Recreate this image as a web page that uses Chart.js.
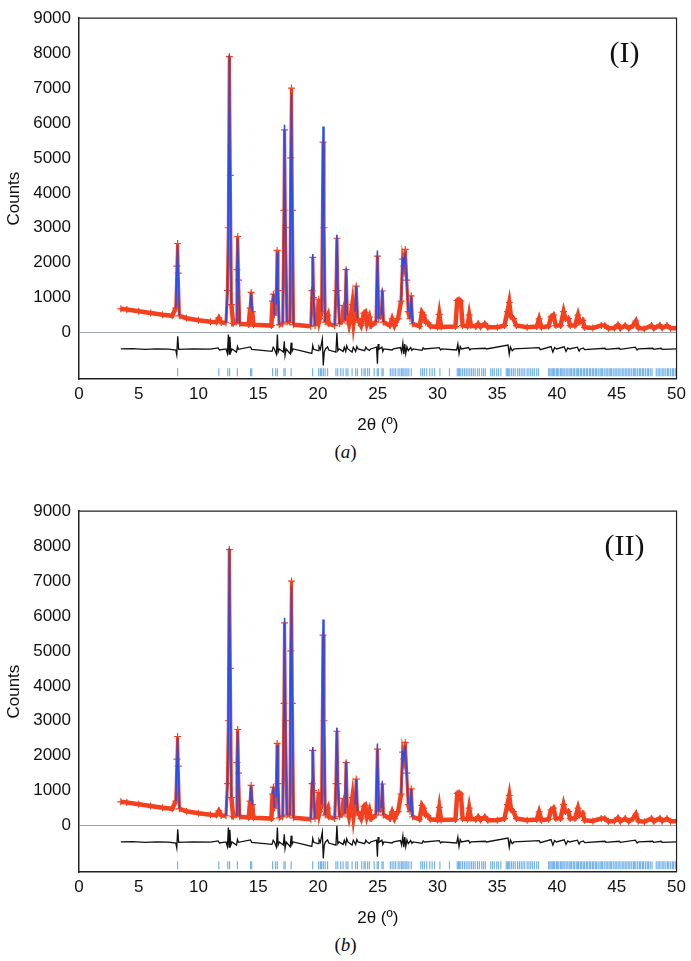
<!DOCTYPE html>
<html>
<head>
<meta charset="utf-8">
<script src="https://cdn.jsdelivr.net/npm/chart.js@4.4.0/dist/chart.umd.min.js"></script>
<style>
  body { margin: 0; background: #fff; width: 691px; height: 961px; position: relative; overflow: hidden; }
  canvas { position: absolute; left: 0; }
  .cap { position: absolute; left: 0; width: 691px; text-align: center; font: 19px "Liberation Serif", serif; color: #111; }
</style>
</head>
<body>
<canvas id="chartA" width="691" height="440" style="top:0"></canvas>
<div class="cap" style="top:441px">(<i>a</i>)</div>
<canvas id="chartB" width="691" height="440" style="top:493px"></canvas>
<div class="cap" style="top:934px">(<i>b</i>)</div>

<script>
// 2theta positions of the profile points
const twoTheta = [3.5, 4.0, 5.0, 6.0, 7.0, 7.8, 8.1, 8.2, 8.25, 8.3, 8.4, 9.0, 10.0, 11.0, 11.5, 11.7, 11.9,
  12.3, 12.42, 12.5, 12.58, 12.66, 12.75, 12.9, 13.15, 13.22, 13.28, 13.35, 13.45, 14.2, 14.32, 14.4, 14.5, 14.6,
  16.1, 16.2, 16.27, 16.35, 16.5, 16.58, 16.65, 16.75, 17.05, 17.15, 17.2, 17.27, 17.4, 17.65, 17.72, 17.78, 17.85, 17.95,
  19.4, 19.5, 19.56, 19.63, 19.75, 19.98, 20.06, 20.15, 20.3, 20.42, 20.5, 20.6, 20.75, 20.82, 20.9,
  21.4, 21.5, 21.58, 21.66, 21.8, 22.05, 22.15, 22.25, 22.35, 22.45, 22.6, 22.75, 22.87, 22.98, 23.1, 23.2, 23.3,
  23.6, 23.85, 23.95, 24.1, 24.3, 24.45, 24.85, 24.97, 25.08, 25.3, 25.38, 25.47, 26.0, 26.2, 26.4, 26.7, 26.95,
  27.08, 27.18, 27.3, 27.42, 27.55, 27.7, 27.8, 27.92, 28.5, 28.7, 28.85, 29.0, 29.2, 29.4, 30.0, 30.15, 30.3,
  31.5, 31.65, 31.8, 31.95, 32.1, 32.5, 32.65, 32.8, 33.2, 33.4, 33.6, 33.95, 34.2, 35.0, 35.6, 35.85, 36.0, 36.15,
  36.35, 36.6, 37.5, 38.3, 38.5, 38.7, 39.3, 39.5, 39.7, 39.9, 40.3, 40.55, 40.7, 40.95, 41.1, 41.5, 41.75, 41.9,
  42.15, 42.3, 43.0, 43.7, 44.0, 44.3, 44.8, 45.1, 45.3, 45.7, 46.0, 46.35, 46.6, 46.8, 47.3, 47.9, 48.1, 48.6,
  48.8, 49.2, 49.5, 50.0];

// observed counts (red crosses)
const yObs = [680, 660, 610, 560, 510, 480, 700, 1900, 2550, 1700, 480, 410, 350, 310, 300, 420, 290,
  280, 1200, 3000, 7900, 4500, 800, 260, 300, 1800, 2750, 1500, 250, 230, 700, 1150, 600, 220,
  200, 900, 1100, 500, 800, 2350, 1200, 220, 250, 3500, 5800, 3000, 300, 300, 5000, 7000, 3500, 220,
  180, 1200, 2150, 1000, 200, 400, 950, 400, 600, 5450, 3000, 300, 450, 500, 250,
  200, 1200, 2700, 1200, 250, 350, 780, 350, 1800, 500, 250, 500, 800, 300, 600, 1330, 400,
  200, 550, 580, 250, 440, 200, 300, 2190, 400, 500, 1190, 300, 200, 390, 200, 400, 900,
  2100, 1900, 2380, 1500, 600, 400, 1050, 250, 180, 580, 500, 300, 280, 180, 160, 520, 160,
  170, 920, 940, 900, 200, 180, 500, 200, 170, 250, 160, 250, 150, 150, 200, 600, 860, 450,
  400, 200, 150, 170, 390, 150, 180, 450, 500, 200, 200, 600, 400, 400, 200, 200, 500, 300,
  350, 150, 130, 200, 200, 120, 130, 220, 120, 200, 120, 200, 330, 130, 110, 200, 120, 210,
  130, 200, 120, 120];

// calculated profile (blue line)
const yCalc = [680, 660, 610, 560, 510, 480, 700, 1950, 2500, 1750, 480, 410, 350, 310, 300, 420, 290,
  280, 1200, 2900, 7950, 4400, 800, 260, 300, 1800, 2700, 1500, 250, 230, 700, 1130, 600, 220,
  200, 900, 1100, 500, 800, 2300, 1200, 220, 250, 3600, 5950, 3100, 300, 300, 4900, 6850, 3500, 220,
  180, 1300, 2250, 1000, 200, 400, 950, 400, 600, 5900, 3100, 300, 450, 500, 250,
  200, 1200, 2800, 1200, 250, 350, 780, 350, 1850, 500, 250, 500, 880, 300, 600, 1330, 400,
  200, 550, 580, 250, 440, 200, 300, 2350, 400, 500, 1250, 300, 200, 390, 200, 400, 900,
  2150, 1900, 2300, 1500, 600, 400, 1050, 250, 180, 580, 500, 300, 280, 180, 160, 520, 160,
  170, 920, 940, 900, 200, 180, 500, 200, 170, 250, 160, 250, 150, 150, 200, 600, 860, 450,
  400, 200, 150, 170, 390, 150, 180, 450, 500, 200, 200, 600, 400, 400, 200, 200, 500, 300,
  350, 150, 130, 200, 200, 120, 130, 220, 120, 200, 120, 200, 330, 130, 110, 200, 120, 210,
  130, 200, 120, 120];

// difference curve (already plotted with its offset)
const diffTheta = [3.5, 4.5, 5.5, 6.5, 7.5, 8.1, 8.18, 8.26, 8.34, 9.5, 11.0, 11.65, 11.75, 12.3, 12.42, 12.5,
  12.56, 12.62, 12.7, 12.8, 13.18, 13.26, 13.34, 14.35, 14.45, 16.15, 16.25, 16.35, 16.52, 16.6, 16.66, 16.76,
  17.1, 17.18, 17.24, 17.34, 17.68, 17.75, 17.82, 17.92, 19.48, 19.56, 19.64, 20.0, 20.08, 20.2, 20.36, 20.44,
  20.52, 20.62, 20.8, 20.9, 21.5, 21.58, 21.66, 21.76, 22.1, 22.2, 22.32, 22.4, 22.5, 22.85, 22.95, 23.15, 23.25,
  23.35, 23.9, 24.0, 24.1, 24.3, 24.4, 24.9, 24.97, 25.03, 25.1, 25.35, 25.42, 25.5, 26.2, 26.3, 26.9, 27.0, 27.1,
  27.18, 27.26, 27.34, 27.44, 27.55, 27.75, 27.85, 27.95, 28.7, 28.8, 28.9, 30.15, 30.25, 30.35, 31.6, 31.7, 31.8,
  31.9, 32.0, 32.6, 32.7, 32.8, 34.0, 34.1, 35.9, 36.0, 36.1, 36.25, 36.4, 38.5, 38.6, 39.5, 39.65, 39.8, 39.95,
  40.6, 40.75, 40.9, 41.05, 41.7, 41.85, 41.95, 42.2, 42.3, 44.0, 44.1, 45.2, 45.3, 46.55, 46.7, 46.8, 48.0, 48.1,
  48.7, 48.8, 50.0];
const diffY = [-470, -460, -480, -465, -475, -500, -640, -110, -480, -465, -475, -440, -500, -470, -600, -60,
  -620, -120, -560, -470, -560, -400, -480, -410, -480, -540, -420, -470, -620, -60, -560, -470,
  -560, -250, -660, -470, -610, -290, -540, -470, -600, -370, -480, -520, -400, -480, -190, -940,
  -560, -470, -410, -500, -560, -10, -520, -470, -540, -420, -540, -380, -470, -560, -420, -540, -400,
  -470, -520, -420, -470, -510, -470, -420, -890, -330, -480, -420, -540, -470, -500, -470, -430, -560, -300,
  -620, -330, -600, -410, -520, -430, -510, -470, -510, -440, -470, -430, -500, -470, -500, -330, -600,
  -400, -470, -430, -500, -470, -450, -470, -360, -620, -410, -520, -470, -430, -490, -400, -560, -430, -470,
  -410, -540, -440, -470, -420, -530, -470, -440, -490, -450, -480, -450, -480, -420, -500, -470, -450, -480,
  -450, -480, -470];

// Bragg reflection positions (tick marks)
const reflections = [8.25, 11.7, 12.45, 12.6, 13.25, 14.35, 14.45, 16.2, 16.45, 16.6, 17.15, 17.25, 17.75,
  19.55, 20.05, 20.2, 20.3, 20.45, 20.6, 20.8, 21.5, 21.65, 21.9, 22.1, 22.35, 22.5, 22.85, 23.15, 23.3, 23.65,
  23.85, 23.95, 24.15, 24.3, 24.7, 24.95, 25.05, 25.35, 25.45, 26.05, 26.2, 26.35, 26.5, 26.7, 26.85, 27.0,
  27.1, 27.2, 27.35, 27.45, 27.6, 27.8, 28.6, 28.75, 28.9, 29.1, 29.35, 29.55, 29.75, 30.2, 31.0, 31.65, 31.75,
  31.85, 31.95, 32.1, 32.25, 32.4, 32.55, 32.7, 32.85, 33.0, 33.15, 33.35, 33.5, 33.7, 33.85, 34.0, 34.45,
  34.6, 34.75, 34.95, 35.1, 35.3, 35.75, 35.85, 35.95, 36.05, 36.2, 36.35, 36.5, 36.7, 36.85, 37.0, 37.15,
  37.3, 37.5, 37.65, 37.8, 37.95, 38.1, 38.3, 38.45, 39.3, 39.4, 39.5, 39.6, 39.7, 39.8, 39.95, 40.05, 40.15,
  40.3, 40.4, 40.5, 40.6, 40.75, 40.85, 41.0, 41.1, 41.2, 41.35, 41.45, 41.6, 41.7, 41.8, 41.95, 42.05, 42.2,
  42.3, 42.45, 42.55, 42.7, 42.8, 42.95, 43.05, 43.2, 43.3, 43.45, 43.6, 43.7, 43.8, 43.95, 44.1, 44.2, 44.35,
  44.45, 44.55, 44.7, 44.85, 44.95, 45.1, 45.2, 45.35, 45.5, 45.6, 45.75, 45.85, 46.0, 46.1, 46.25, 46.4,
  46.5, 46.6, 46.75, 46.9, 47.0, 47.15, 47.25, 47.4, 47.55, 47.65, 47.8, 47.95, 48.3, 48.45, 48.55, 48.7,
  48.85, 48.95, 49.1, 49.25, 49.35, 49.5, 49.65, 49.75, 49.9];
const reflectionLevel = -1140;

const yTicks = [0, 1000, 2000, 3000, 4000, 5000, 6000, 7000, 8000, 9000];

const RED = "#f4401e";
const BLUE = "#2a4de6";
const TICKBLUE = "#74b2ec";
const FONT = "'Liberation Sans', Arial, sans-serif";

// draws the top and right edges of the plot frame plus the phase label
const framePlugin = {
  id: "frame",
  afterDraw(chart, args, opts) {
    const { ctx, chartArea: a } = chart;
    ctx.save();
    ctx.strokeStyle = "#222";
    ctx.lineWidth = 1.2;
    ctx.beginPath();
    ctx.moveTo(a.left, a.top);
    ctx.lineTo(a.right, a.top);
    ctx.lineTo(a.right, a.bottom);
    ctx.stroke();
    ctx.fillStyle = "#111";
    ctx.font = "30px 'Liberation Serif', serif";
    ctx.textAlign = "center";
    ctx.textBaseline = "middle";
    ctx.fillText(opts.label, a.right - 52, a.top + 36);
    ctx.restore();
  }
};

// background stretches get a thick red band, peak flanks a red fringe round the blue line
const isLow = c => c.p0.parsed.y < 1000 && c.p1.parsed.y < 1000;

function makeChart(id, label) {
  new Chart(document.getElementById(id), {
    type: "scatter",
    data: {
      datasets: [
        {
          // observed, drawn underneath the calculated line
          order: 2,
          data: twoTheta.map((x, i) => ({ x: x, y: yObs[i] })),
          showLine: true,
          borderColor: RED,
          borderWidth: 4.5,
          segment: { borderWidth: c => isLow(c) ? 4.5 : 3.2 },
          pointStyle: "cross",
          pointRadius: 3.5,
          pointBorderWidth: 1.2,
          pointBorderColor: RED,
          pointBackgroundColor: RED
        },
        {
          order: 1,
          data: twoTheta.map((x, i) => ({ x: x, y: yCalc[i] })),
          showLine: true,
          borderColor: BLUE,
          borderWidth: 1.5,
          pointRadius: 0,
          segment: { borderColor: c => isLow(c) ? "rgba(0,0,0,0)" : BLUE }
        },
        {
          order: 3,
          data: diffTheta.map((x, i) => ({ x: x, y: diffY[i] })),
          showLine: true,
          borderColor: "#111",
          borderWidth: 1.3,
          pointRadius: 0
        },
        {
          order: 4,
          data: reflections.map(x => ({ x: x, y: reflectionLevel })),
          pointStyle: "line",
          rotation: 90,
          pointRadius: 4,
          pointBorderWidth: 1.2,
          pointBorderColor: TICKBLUE
        }
      ]
    },
    options: {
      responsive: false,
      animation: false,
      devicePixelRatio: 1,
      layout: { padding: { top: 6, right: 9, bottom: 0, left: 4 } },
      plugins: {
        legend: { display: false },
        tooltip: { enabled: false },
        frame: { label: label }
      },
      scales: {
        x: {
          type: "linear",
          min: 0,
          max: 50,
          ticks: { stepSize: 5, color: "#111", font: { family: FONT, size: 17 }, padding: 5 },
          grid: { display: false, drawTicks: false },
          border: { color: "#222", width: 1.5 },
          title: { display: true, text: "2θ (º)", color: "#111", font: { family: FONT, size: 17 }, padding: { top: 4, bottom: 4 } },
          afterFit: s => { s.height = 61; }
        },
        y: {
          type: "linear",
          min: -1330,
          max: 9000,
          afterBuildTicks: axis => { axis.ticks = yTicks.map(v => ({ value: v })); },
          ticks: { color: "#111", font: { family: FONT, size: 17 }, padding: 8, callback: v => String(v) },
          grid: {
            drawTicks: false,
            color: c => (c.tick && c.tick.value === 0) ? "#9aa5ab" : "rgba(0,0,0,0)",
            lineWidth: 1
          },
          border: { color: "#222", width: 1.5 },
          title: { display: true, text: "Counts", color: "#111", font: { family: FONT, size: 17 }, padding: { top: 0, bottom: 2 } },
          afterFit: s => { s.width = 75; }
        }
      }
    },
    plugins: [framePlugin]
  });
}

makeChart("chartA", "(I)");
makeChart("chartB", "(II)");
</script>
</body>
</html>
